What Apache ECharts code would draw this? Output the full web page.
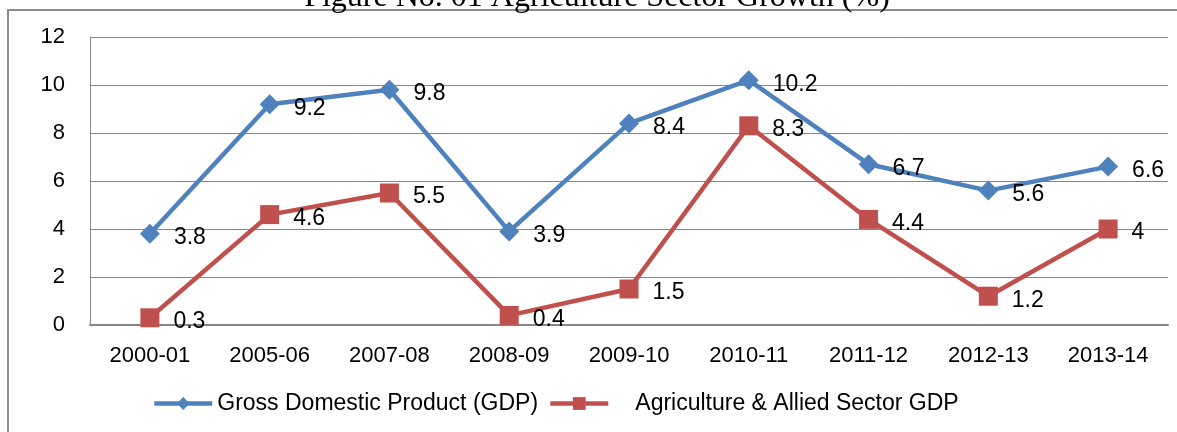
<!DOCTYPE html>
<html>
<head>
<meta charset="utf-8">
<script src="https://cdn.jsdelivr.net/npm/echarts@6/dist/echarts.min.js"></script>
<style>
html,body{margin:0;padding:0;background:#fff;}
#chart{width:1177px;height:432px;}
</style>
</head>
<body>
<div id="chart"></div>
<script>
const titleText = 'Figure No. 01 Agriculture Sector Growth (%)';
const categories = ['2000-01','2005-06','2007-08','2008-09','2009-10','2010-11','2011-12','2012-13','2013-14'];
const gdpName = 'Gross Domestic Product (GDP)';
const gdpValues = [3.8, 9.2, 9.8, 3.9, 8.4, 10.2, 6.7, 5.6, 6.6];
const agriName = 'Agriculture & Allied Sector GDP';
const agriValues = [0.3, 4.6, 5.5, 0.4, 1.5, 8.3, 4.4, 1.2, 4];
const yTicks = {min: 0, max: 12, interval: 2};

const FONT = 'Liberation Sans';
const labelStyle = {
  show: true, position: 'right', distance: 14, offset: [0, 4],
  color: '#000', fontSize: 23, fontFamily: FONT
};

const chart = echarts.init(document.getElementById('chart'));
chart.setOption({
  animation: false,
  backgroundColor: '#fff',
  graphic: [
    {type: 'rect', z: 100, silent: true,
     shape: {x: 8, y: 10, width: 1300, height: 600},
     style: {fill: 'none', stroke: '#8c8c8c', lineWidth: 2}},
    {type: 'text', z: 101, x: 597, y: 14,
     style: {text: titleText, fill: '#000', font: '32px "Liberation Serif"', align: 'center', verticalAlign: 'bottom'}}
  ],
  grid: {left: 90, right: 9, top: 37, bottom: 107, containLabel: false},
  legend: {
    left: 147, top: 387, itemWidth: 58, itemHeight: 16, itemGap: 10,
    lineStyle: {width: 4.5},
    textStyle: {color: '#000', fontSize: 23, fontFamily: FONT},
    data: [
      {name: gdpName},
      {name: agriName, textStyle: {padding: [0, 0, 0, 22]}}
    ]
  },
  xAxis: {
    type: 'category', data: categories, boundaryGap: true,
    axisLine: {lineStyle: {color: '#868686', width: 2}},
    axisTick: {show: false},
    axisLabel: {color: '#000', fontSize: 22, fontFamily: FONT, margin: 20}
  },
  yAxis: {
    type: 'value', min: yTicks.min, max: yTicks.max, interval: yTicks.interval,
    axisLine: {show: true, lineStyle: {color: '#868686', width: 1}},
    axisTick: {show: false},
    splitLine: {lineStyle: {color: '#868686', width: 1}},
    axisLabel: {color: '#000', fontSize: 22, fontFamily: FONT, margin: 25}
  },
  series: [
    {name: gdpName, type: 'line', data: gdpValues,
     symbol: 'diamond', symbolSize: 20,
     lineStyle: {color: '#4F81BD', width: 4.5},
     itemStyle: {color: '#4F81BD'},
     label: labelStyle},
    {name: agriName, type: 'line', data: agriValues,
     symbol: 'rect', symbolSize: 19,
     lineStyle: {color: '#C0504D', width: 4.5},
     itemStyle: {color: '#C0504D'},
     label: labelStyle}
  ]
});
</script>
</body>
</html>
